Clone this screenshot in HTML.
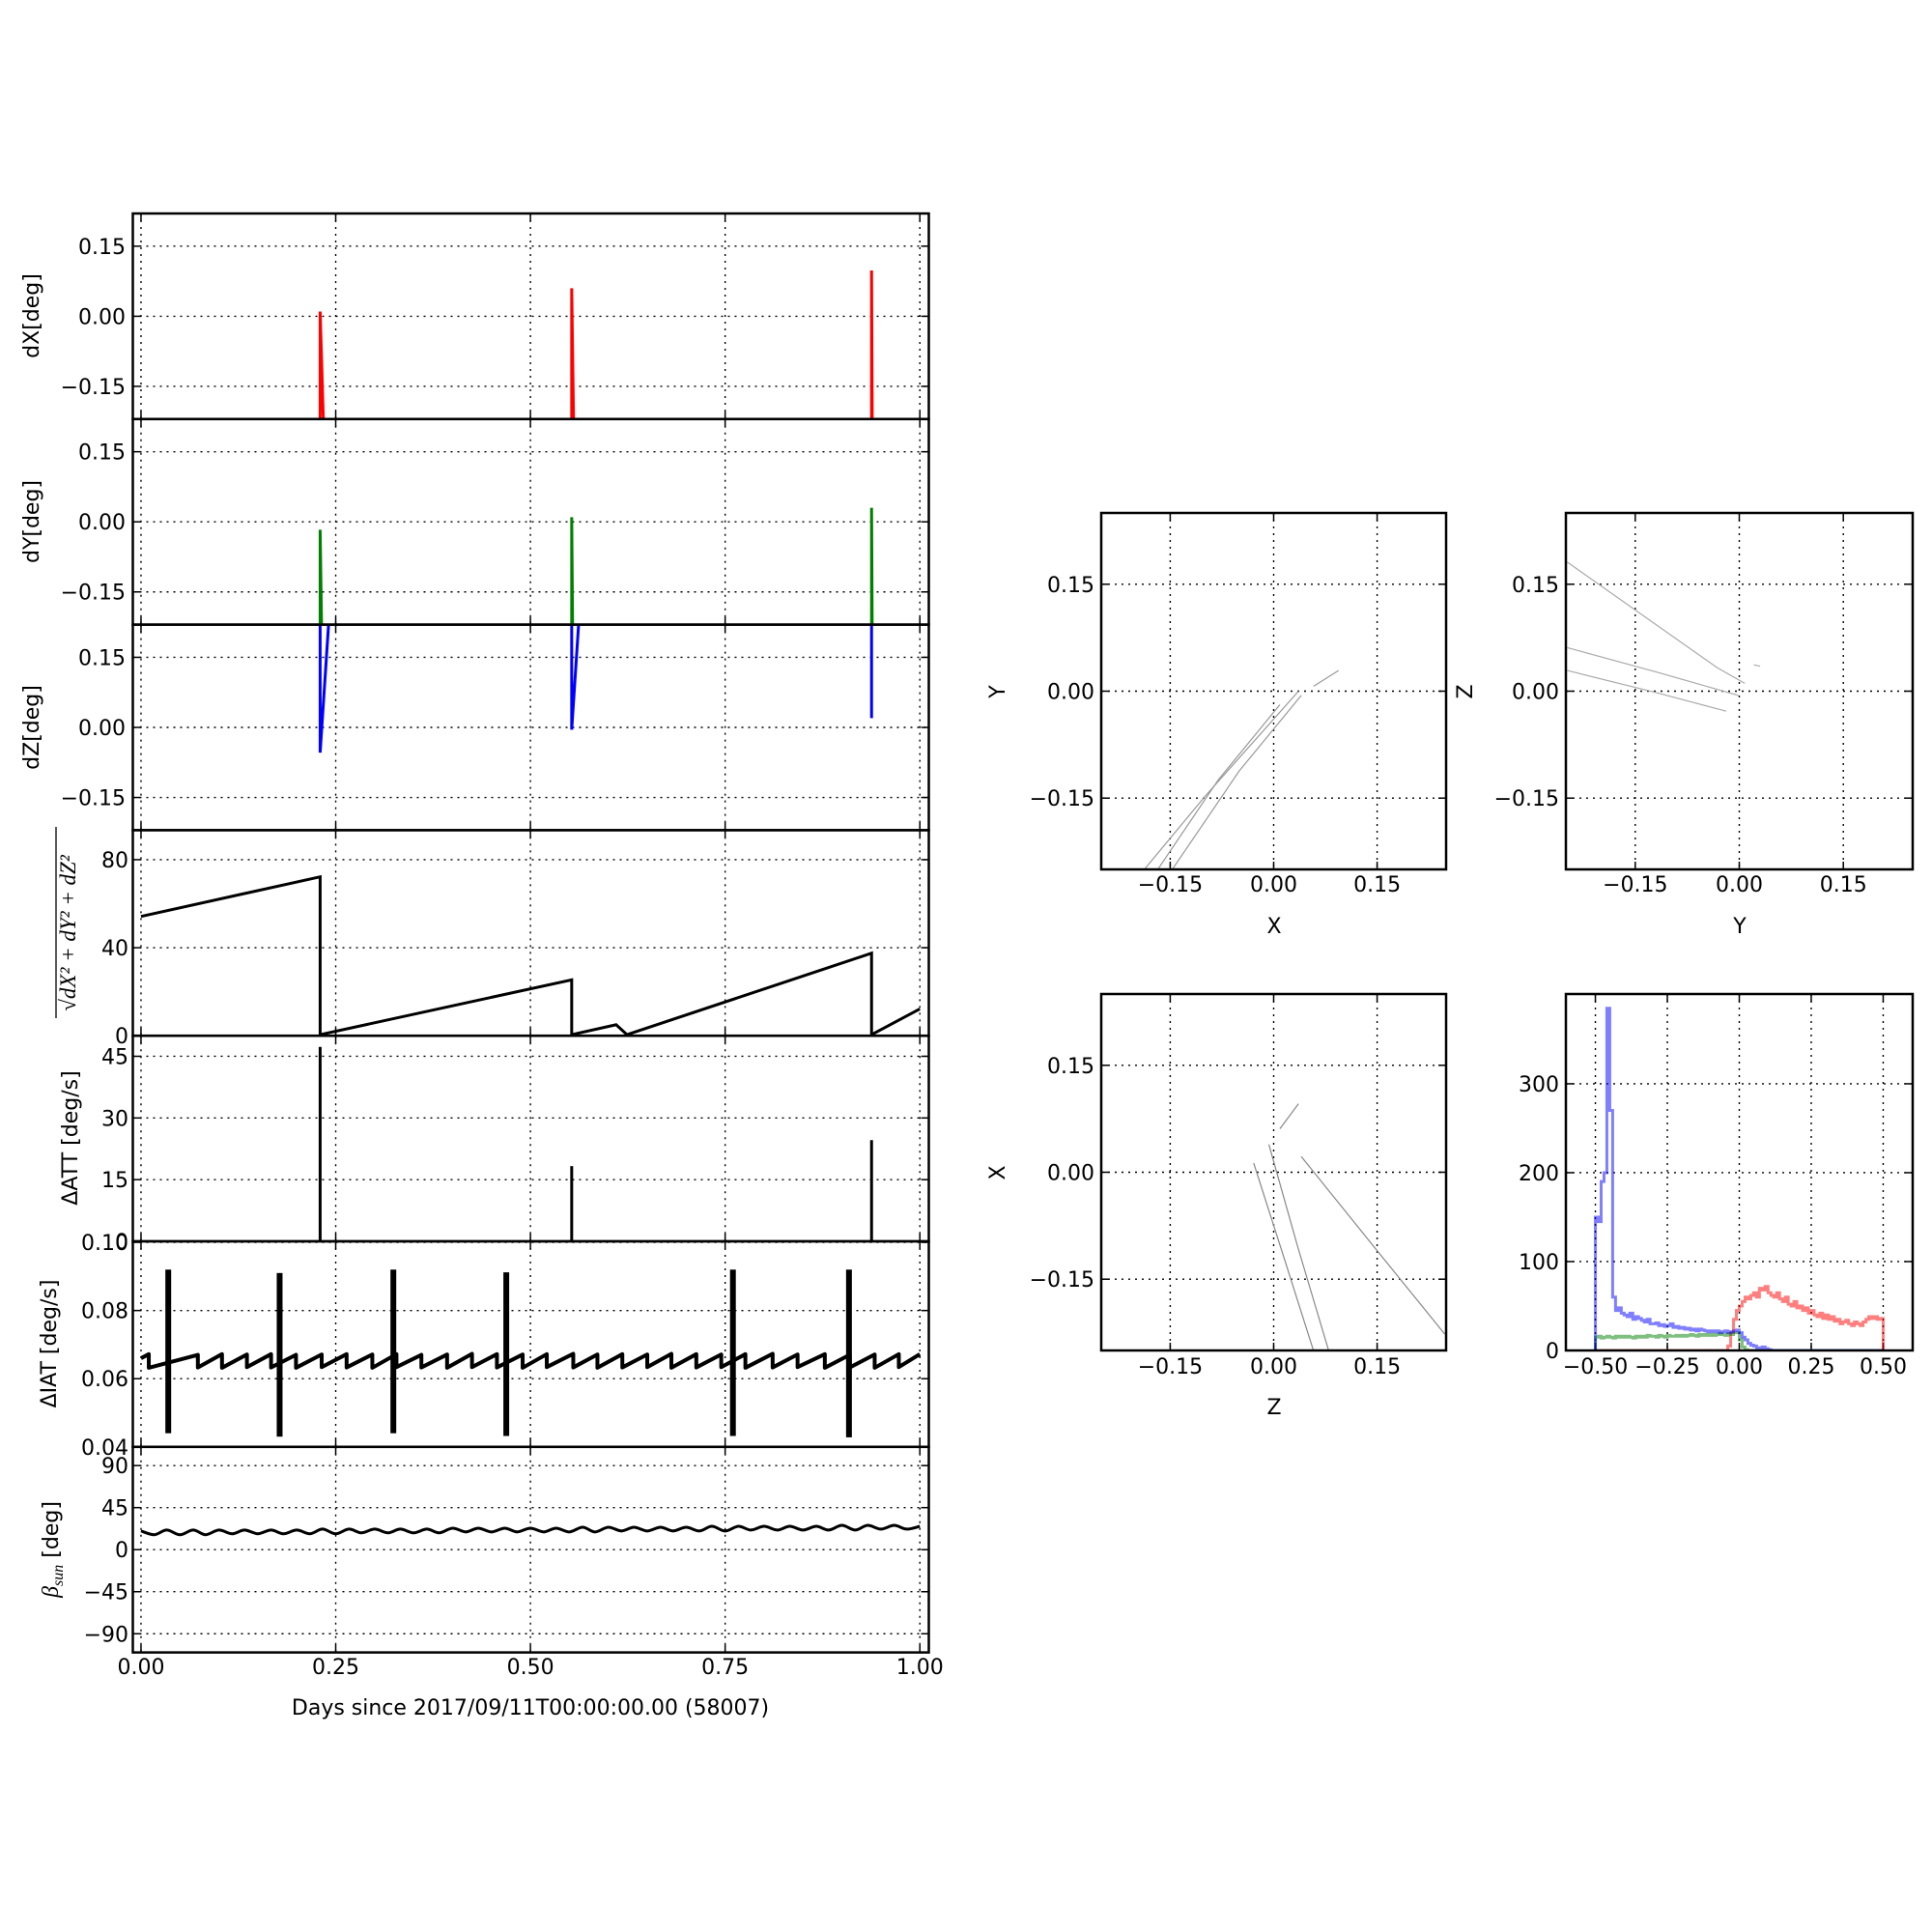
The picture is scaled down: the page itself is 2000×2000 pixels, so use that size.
<!DOCTYPE html>
<html><head><meta charset="utf-8"><style>
html,body{margin:0;padding:0;background:#fff;}
svg{display:block;font-family:"DejaVu Sans","Liberation Sans",sans-serif;}
</style></head><body>
<svg id="chart" width="2000" height="2000" viewBox="0 0 2000 2000" xmlns="http://www.w3.org/2000/svg">
<rect x="0" y="0" width="2000" height="2000" fill="#fff"/>
</svg>
<script>
// ---------- data ----------
const leftTicksX = [0, 0.25, 0.5, 0.75, 1.0];
const leftTickLabelsX = ["0.00","0.25","0.50","0.75","1.00"];
const degTicks = [-0.15, 0, 0.15];
const degTickLabels = ["\u22120.15","0.00","0.15"];

const dxSpikeT = [0.230, 0.553, 0.938];
const dxSpikePeak = [0.010, 0.060, 0.098];
const dxSpikeEnd = [0.2355, 0.556, 0.939];

const dySpikeT = [0.230, 0.553, 0.938];
const dySpikePeak = [-0.017, 0.010, 0.030];
const dySpikeEnd = [0.2325, 0.5545, 0.939];

const dzSpikeT = [0.230, 0.553, 0.938];
const dzSpikeMin = [-0.054, -0.005, 0.020];
const dzSpikeBack = [0.244, 0.565, 0.938];

const normT = [0, 0.230, 0.230, 0.553, 0.553, 0.610, 0.624, 0.938, 0.938, 1.0];
const normV = [54.2, 72.2, 0.5, 25.4, 0.5, 5.0, 0.5, 37.5, 0.5, 12.2];
const normTicks = [0, 40, 80];
const normTickLabels = ["0","40","80"];

const attT = [0.230, 0.553, 0.938];
const attV = [47.3, 18.3, 24.6];
const attTicks = [0, 15, 30, 45];
const attTickLabels = ["0","15","30","45"];

const iatToothStart = [0.000,0.010,0.073,0.104,0.136,0.167,0.199,0.232,0.264,0.297,0.328,0.360,0.393,0.425,0.457,0.490,0.521,0.555,0.586,0.618,0.650,0.681,0.713,0.745,0.776,0.811,0.843,0.878,0.910,0.942,0.973,1.000];
const iatToothLow = [0.0660,0.0632,0.0633,0.0632,0.0634,0.0633,0.0632,0.0634,0.0633,0.0632,0.0634,0.0633,0.0632,0.0634,0.0633,0.0632,0.0634,0.0633,0.0632,0.0633,0.0634,0.0632,0.0633,0.0634,0.0632,0.0633,0.0634,0.0632,0.0633,0.0632,0.0634,0.0640];
const iatToothHigh = [0.0672,0.0670,0.0672,0.0671,0.0672,0.0670,0.0671,0.0672,0.0671,0.0672,0.0670,0.0671,0.0673,0.0672,0.0671,0.0672,0.0673,0.0671,0.0672,0.0671,0.0673,0.0672,0.0671,0.0672,0.0673,0.0671,0.0672,0.0670,0.0671,0.0672,0.0672,0.0672];
const iatBurstT = [0.035, 0.178, 0.324, 0.469, 0.760, 0.909];
const iatBurstLo = [0.0440, 0.0430, 0.0440, 0.0432, 0.0432, 0.0428];
const iatBurstHi = [0.0920, 0.0910, 0.0920, 0.0912, 0.0920, 0.0920];
const iatTicks = [0.04, 0.06, 0.08, 0.10];
const iatTickLabels = ["0.04","0.06","0.08","0.10"];

const betaT = [0.000,0.017,0.033,0.050,0.067,0.083,0.100,0.117,0.133,0.150,0.167,0.183,0.200,0.217,0.233,0.250,0.267,0.283,0.300,0.317,0.333,0.350,0.367,0.383,0.400,0.417,0.433,0.450,0.467,0.483,0.500,0.517,0.533,0.550,0.567,0.583,0.600,0.617,0.633,0.650,0.667,0.683,0.700,0.717,0.733,0.750,0.767,0.783,0.800,0.817,0.833,0.850,0.867,0.883,0.900,0.917,0.933,0.950,0.967,0.983,1.000];
const betaV = [20,16,21,16,21,16,21,17,21,17,21,17,21,17,22,17,22,18,22,18,22,18,22,18,23,19,23,19,23,19,23,19,23,19,24,19,24,20,24,20,24,20,24,20,25,20,25,21,25,21,25,21,25,21,26,21,26,22,26,22,25];
const betaTicks = [-90, -45, 0, 45, 90];
const betaTickLabels = ["\u221290","\u221245","0","45","90"];

const sqTicks = [-0.15, 0, 0.15];
const sqTickLabels = ["\u22120.15","0.00","0.15"];
const xyTrackX = [[-0.1875,-0.10,0.036],[-0.168,-0.08,0.009],[-0.147,-0.05,0.040],[0.058,0.094]];
const xyTrackY = [[-0.250,-0.148,0.000],[-0.250,-0.124,-0.019],[-0.250,-0.112,-0.006],[0.007,0.029]];
const yzTrackX = [[-0.248,-0.032,0.008],[-0.248,-0.120,-0.001],[-0.248,-0.120,-0.019],[0.021,0.030]];
const yzTrackY = [[0.181,0.033,0.011],[0.061,0.027,-0.006],[0.029,-0.002,-0.028],[0.037,0.035]];
const zxTrackX = [[-0.029,0.015,0.058],[-0.007,0.035,0.080],[0.040,0.140,0.248],[0.009,0.036]];
const zxTrackY = [[0.013,-0.120,-0.251],[0.039,-0.105,-0.251],[0.022,-0.098,-0.227],[0.061,0.096]];

const histStart = -0.5;
const histBinWidth = 0.01;
const histBlue = [150,145,190,200,385,270,60,45,48,42, 40,38,42,35,38,36,34,32,35,30, 30,31,28,29,27,28,30,26,27,25, 26,24,25,23,24,22,24,23,22,21, 22,21,22,20,21,22,20,21,22,23, 20,15,12,8,6,5,3,2,4,2, 1,0,0,0,0,0,0,0,0,0, 0,0,0,0,0,0,0,0,0,0, 0,0,0,0,0,0,0,0,0,0, 0,0,0,0,0,0,0,0,0,0];
const histGreen = [15,16,14,15,16,15,14,16,15,16, 15,16,15,14,16,15,16,15,17,16, 16,15,17,16,15,17,16,16,17,16, 17,16,17,18,17,16,18,17,18,17, 18,17,18,19,18,17,19,18,20,20, 12,4,1,0,0,0,0,0,0,0, 0,0,0,0,0,0,0,0,0,0, 0,0,0,0,0,0,0,0,0,0, 0,0,0,0,0,0,0,0,0,0, 0,0,0,0,0,0,0,0,0,0];
const histRed = [0,0,0,0,0,0,0,0,0,0, 0,0,0,0,0,0,0,0,0,0, 0,0,0,0,0,0,0,0,0,0, 0,0,0,0,0,0,0,0,0,0, 0,0,0,0,0,0,5,20,35,45, 50,55,60,58,62,65,60,70,68,72, 65,62,60,65,58,55,60,52,50,55, 48,50,45,48,42,45,40,38,42,36, 40,35,38,33,35,30,32,34,30,28, 32,30,28,32,35,38,36,38,35,36];
const histTicksX = [-0.5, -0.25, 0, 0.25, 0.5];
const histTickLabelsX = ["\u22120.50","\u22120.25","0.00","0.25","0.50"];
const histTicksY = [0, 100, 200, 300];
const histTickLabelsY = ["0","100","200","300"];

// ---------- helpers ----------
const NS = "http://www.w3.org/2000/svg";
const svg = document.getElementById('chart');
const FS = 22;
function el(tag, attrs, parent) {
  const e = document.createElementNS(NS, tag);
  for (const k in attrs) e.setAttribute(k, attrs[k]);
  (parent || svg).appendChild(e);
  return e;
}
let clipCount = 0;
function makeAxes(name, box, xlim, ylim) {
  const g = el('g', {});
  
  
  const sx = v => box.x0 + (v - xlim[0]) / (xlim[1] - xlim[0]) * (box.x1 - box.x0);
  const sy = v => box.y1 - (v - ylim[0]) / (ylim[1] - ylim[0]) * (box.y1 - box.y0);
  const id = 'clip' + (clipCount++);
  const cp = el('clipPath', {id: id}, g);
  el('rect', {x: box.x0, y: box.y0, width: box.x1 - box.x0, height: box.y1 - box.y0}, cp);
  return {g, sx, sy, box, clip: 'url(#' + id + ')'};
}
function grid(ax, xt, yt) {
  const b = ax.box;
  xt.forEach(v => {
    const x = ax.sx(v);
    const l = el('line', {x1: x, x2: x, y1: b.y0, y2: b.y1, stroke: '#000', 'stroke-width': 1.4, 'stroke-dasharray': '2,5'}, ax.g);
    
    
    [[b.y0, b.y0 + 8], [b.y1, b.y1 - 8]].forEach(p => {
      const t = el('line', {x1: x, x2: x, y1: p[0], y2: p[1], stroke: '#000', 'stroke-width': 1.5}, ax.g);
      
      
    });
  });
  yt.forEach(v => {
    const y = ax.sy(v);
    const l = el('line', {x1: b.x0, x2: b.x1, y1: y, y2: y, stroke: '#000', 'stroke-width': 1.4, 'stroke-dasharray': '2,5'}, ax.g);
    
    
    [[b.x0, b.x0 + 8], [b.x1, b.x1 - 8]].forEach(p => {
      const t = el('line', {x1: p[0], x2: p[1], y1: y, y2: y, stroke: '#000', 'stroke-width': 1.5}, ax.g);
      
      
    });
  });
}
function yLabels(ax, ticks, labels, xEnd) {
  ticks.forEach((v, i) => {
    const t = el('text', {x: xEnd, y: ax.sy(v) + 8, 'text-anchor': 'end', 'font-size': FS, fill: '#000'}, ax.g);
    t.textContent = labels[i];
    
    
  });
}
function xLabels(ax, ticks, labels, yBase) {
  ticks.forEach((v, i) => {
    const t = el('text', {x: ax.sx(v), y: yBase, 'text-anchor': 'middle', 'font-size': FS, fill: '#000'}, ax.g);
    t.textContent = labels[i];
    
    
  });
}
function spine(ax) {
  const b = ax.box;
  const r = el('rect', {x: b.x0, y: b.y0, width: b.x1 - b.x0, height: b.y1 - b.y0, fill: 'none', stroke: '#000', 'stroke-width': 2.5}, ax.g);
  
  
}
function rotLabel(parent, x, y, txt, size, name) {
  const t = el('text', {x: 0, y: 0, transform: 'translate(' + x + ',' + y + ') rotate(-90)', 'text-anchor': 'middle', 'font-size': size, fill: '#000'}, parent);
  t.textContent = txt;
  
  
  return t;
}
function pathFrom(xs, ys, ax) {
  return xs.map((x, i) => (i ? 'L' : 'M') + ax.sx(x).toFixed(2) + ',' + ax.sy(ys[i]).toFixed(2)).join('');
}

// ---------- left stack ----------
const LX0 = 137.5, LX1 = 961.5, LTOP = 221, LH = 212.8;
const LXLIM = [-0.0105, 1.0115];
function leftBox(i) { return {x0: LX0, x1: LX1, y0: LTOP + i * LH, y1: LTOP + (i + 1) * LH}; }

const a1 = makeAxes('dx-panel', leftBox(0), LXLIM, [-0.22, 0.22]);
grid(a1, leftTicksX, degTicks);
dxSpikeT.forEach((t, i) => {
  const p = el('path', {d: pathFrom([t, t, dxSpikeEnd[i]], [-0.3, dxSpikePeak[i], -0.3], a1), fill: 'none', stroke: '#ff0000', 'stroke-width': 3, 'clip-path': a1.clip}, a1.g);
  
  
});
yLabels(a1, degTicks, degTickLabels, 130);
rotLabel(a1.g, 40, 327, 'dX[deg]', FS, 'dx-axis-title');
spine(a1);

const a2 = makeAxes('dy-panel', leftBox(1), LXLIM, [-0.22, 0.22]);
grid(a2, leftTicksX, degTicks);
dySpikeT.forEach((t, i) => {
  const p = el('path', {d: pathFrom([t, t, dySpikeEnd[i]], [-0.3, dySpikePeak[i], -0.3], a2), fill: 'none', stroke: '#008000', 'stroke-width': 3, 'clip-path': a2.clip}, a2.g);
  
  
});
yLabels(a2, degTicks, degTickLabels, 130);
rotLabel(a2.g, 40, 540, 'dY[deg]', FS, 'dy-axis-title');
spine(a2);

const a3 = makeAxes('dz-panel', leftBox(2), LXLIM, [-0.22, 0.22]);
grid(a3, leftTicksX, degTicks);
dzSpikeT.forEach((t, i) => {
  const p = el('path', {d: pathFrom([t, t, dzSpikeBack[i]], [0.3, dzSpikeMin[i], 0.3], a3), fill: 'none', stroke: '#0000ff', 'stroke-width': 3, 'clip-path': a3.clip}, a3.g);
  
  
});
yLabels(a3, degTicks, degTickLabels, 130);
rotLabel(a3.g, 40, 753, 'dZ[deg]', FS, 'dz-axis-title');
spine(a3);

const a4 = makeAxes('norm-panel', leftBox(3), LXLIM, [0, 93.4]);
grid(a4, leftTicksX, normTicks);
const p4 = el('path', {d: pathFrom(normT, normV, a4), fill: 'none', stroke: '#000', 'stroke-width': 3, 'clip-path': a4.clip}, a4.g);


yLabels(a4, normTicks, normTickLabels, 133);
{
  const g = el('g', {transform: 'translate(78,966) rotate(-90)'}, a4.g);
  
  
  const t = el('text', {x: 0, y: 0, 'text-anchor': 'middle', 'font-size': 23, 'font-family': '"Liberation Serif",serif', 'font-style': 'italic', fill: '#000'}, g);
  t.textContent = '\u221AdX\u00B2 + dY\u00B2 + dZ\u00B2';
  
  
  const ol = el('line', {x1: -88, x2: 110, y1: -20, y2: -20, stroke: '#000', 'stroke-width': 1.3}, g);
  
  
}
spine(a4);

const a5 = makeAxes('datt-panel', leftBox(4), LXLIM, [0, 50]);
grid(a5, leftTicksX, attTicks);
attT.forEach((t, i) => {
  const l = el('line', {x1: a5.sx(t), x2: a5.sx(t), y1: a5.sy(0), y2: a5.sy(attV[i]), stroke: '#000', 'stroke-width': 3}, a5.g);
  
  
});
yLabels(a5, attTicks, attTickLabels, 133);
rotLabel(a5.g, 80, 1178, '\u0394ATT [deg/s]', FS, 'datt-axis-title');
spine(a5);

const a6 = makeAxes('diat-panel', leftBox(5), LXLIM, [0.04, 0.1003]);
grid(a6, leftTicksX, iatTicks);
{
  let d = '';
  for (let i = 0; i < iatToothStart.length - 1; i++) {
    const x0 = iatToothStart[i], x1 = iatToothStart[i + 1];
    d += (i ? 'L' : 'M') + a6.sx(x0).toFixed(2) + ',' + a6.sy(iatToothLow[i]).toFixed(2);
    d += 'L' + a6.sx(x1).toFixed(2) + ',' + a6.sy(iatToothHigh[i]).toFixed(2);
  }
  const p = el('path', {d: d, fill: 'none', stroke: '#000', 'stroke-width': 4, 'stroke-linejoin': 'round', 'clip-path': a6.clip}, a6.g);
  
  
}
iatBurstT.forEach((t, i) => {
  const l = el('rect', {x: a6.sx(t) - 3, y: a6.sy(iatBurstHi[i]), width: 6, height: a6.sy(iatBurstLo[i]) - a6.sy(iatBurstHi[i]), fill: '#000'}, a6.g);
  
  
});
yLabels(a6, iatTicks, iatTickLabels, 133);
rotLabel(a6.g, 58, 1391, '\u0394IAT [deg/s]', FS, 'diat-axis-title');
spine(a6);

const a7 = makeAxes('beta-sun-panel', leftBox(6), LXLIM, [-110, 110]);
grid(a7, leftTicksX, betaTicks);
{
  const pts = betaT.map((t, i) => [a7.sx(t), a7.sy(betaV[i])]);
  let d = 'M' + pts[0][0] + ',' + pts[0][1];
  for (let i = 0; i < pts.length - 1; i++) {
    const p0 = pts[Math.max(0, i - 1)], p1 = pts[i], p2 = pts[i + 1], p3 = pts[Math.min(pts.length - 1, i + 2)];
    const c1 = [p1[0] + (p2[0] - p0[0]) / 6, p1[1] + (p2[1] - p0[1]) / 6];
    const c2 = [p2[0] - (p3[0] - p1[0]) / 6, p2[1] - (p3[1] - p1[1]) / 6];
    d += 'C' + c1[0].toFixed(2) + ',' + c1[1].toFixed(2) + ' ' + c2[0].toFixed(2) + ',' + c2[1].toFixed(2) + ' ' + p2[0].toFixed(2) + ',' + p2[1].toFixed(2);
  }
  const p = el('path', {d: d, fill: 'none', stroke: '#000', 'stroke-width': 3}, a7.g);
  
  
}
yLabels(a7, betaTicks, betaTickLabels, 133);
{
  const t = el('text', {x: 0, y: 0, transform: 'translate(60,1604) rotate(-90)', 'text-anchor': 'middle', 'font-size': FS, fill: '#000'}, a7.g);
  
  
  const s1 = el('tspan', {'font-family': '"Liberation Serif",serif', 'font-style': 'italic', 'font-size': 24}, t);
  s1.textContent = '\u03B2';
  const s2 = el('tspan', {'font-family': '"Liberation Serif",serif', 'font-style': 'italic', 'font-size': 16, dy: 5}, t);
  s2.textContent = 'sun';
  const s3 = el('tspan', {dy: -5}, t);
  s3.textContent = ' [deg]';
}
xLabels(a7, leftTicksX, leftTickLabelsX, 1733);
{
  const t = el('text', {x: 549, y: 1775, 'text-anchor': 'middle', 'font-size': FS, fill: '#000'}, a7.g);
  t.textContent = 'Days since 2017/09/11T00:00:00.00 (58007)';
  
  
}
spine(a7);

// ---------- right scatter panels ----------
function scatterPanel(name, box, tx, ty, color) {
  const ax = makeAxes(name, box, [-0.25, 0.25], [-0.25, 0.25]);
  grid(ax, sqTicks, sqTicks);
  tx.forEach((xs, i) => {
    const p = el('path', {d: pathFrom(xs, ty[i], ax), fill: 'none', stroke: color, 'stroke-width': 1.2, 'clip-path': ax.clip}, ax.g);
    
    
  });
  return ax;
}
const bxy = scatterPanel('xy-scatter-panel', {x0: 1140, x1: 1497, y0: 531, y1: 900}, xyTrackX, xyTrackY, '#999');
yLabels(bxy, sqTicks, sqTickLabels, 1133);
xLabels(bxy, sqTicks, sqTickLabels, 923);
rotLabel(bxy.g, 1040, 716, 'Y', FS, 'xy-y-axis-title');
{ const t = el('text', {x: 1319, y: 966, 'text-anchor': 'middle', 'font-size': FS}, bxy.g); t.textContent = 'X';   }
spine(bxy);

const byz = scatterPanel('yz-scatter-panel', {x0: 1621, x1: 1980, y0: 531, y1: 900}, yzTrackX, yzTrackY, '#aaa');
yLabels(byz, sqTicks, sqTickLabels, 1614);
xLabels(byz, sqTicks, sqTickLabels, 923);
rotLabel(byz.g, 1524, 716, 'Z', FS, 'yz-y-axis-title');
{ const t = el('text', {x: 1801, y: 966, 'text-anchor': 'middle', 'font-size': FS}, byz.g); t.textContent = 'Y';   }
spine(byz);

const bzx = scatterPanel('zx-scatter-panel', {x0: 1140, x1: 1497, y0: 1029, y1: 1398}, zxTrackX, zxTrackY, '#888');
yLabels(bzx, sqTicks, sqTickLabels, 1133);
xLabels(bzx, sqTicks, sqTickLabels, 1422);
rotLabel(bzx.g, 1040, 1214, 'X', FS, 'zx-y-axis-title');
{ const t = el('text', {x: 1319, y: 1464, 'text-anchor': 'middle', 'font-size': FS}, bzx.g); t.textContent = 'Z';   }
spine(bzx);

// ---------- histogram ----------
const ah = makeAxes('offset-histogram-panel', {x0: 1621, x1: 1980, y0: 1029, y1: 1398}, [-0.6025, 0.6025], [0, 401]);
grid(ah, histTicksX, histTicksY);
function stepPath(vals) {
  let d = 'M' + ah.sx(histStart).toFixed(2) + ',' + ah.sy(0).toFixed(2);
  vals.forEach((v, i) => {
    const x0 = histStart + i * histBinWidth, x1 = x0 + histBinWidth;
    d += 'L' + ah.sx(x0).toFixed(2) + ',' + ah.sy(v).toFixed(2) + 'L' + ah.sx(x1).toFixed(2) + ',' + ah.sy(v).toFixed(2);
  });
  d += 'L' + ah.sx(histStart + vals.length * histBinWidth).toFixed(2) + ',' + ah.sy(0).toFixed(2);
  return d;
}
[[histRed, '#ff0000', 'hist-dx'], [histGreen, '#008000', 'hist-dy'], [histBlue, '#0000ff', 'hist-dz']].forEach(s => {
  const p = el('path', {d: stepPath(s[0]), fill: 'none', stroke: s[1], 'stroke-opacity': 0.5, 'stroke-width': 3, 'clip-path': ah.clip}, ah.g);
  
  
});
yLabels(ah, histTicksY, histTickLabelsY, 1614);
xLabels(ah, histTicksX, histTickLabelsX, 1422);
spine(ah);
</script>
</body></html>
